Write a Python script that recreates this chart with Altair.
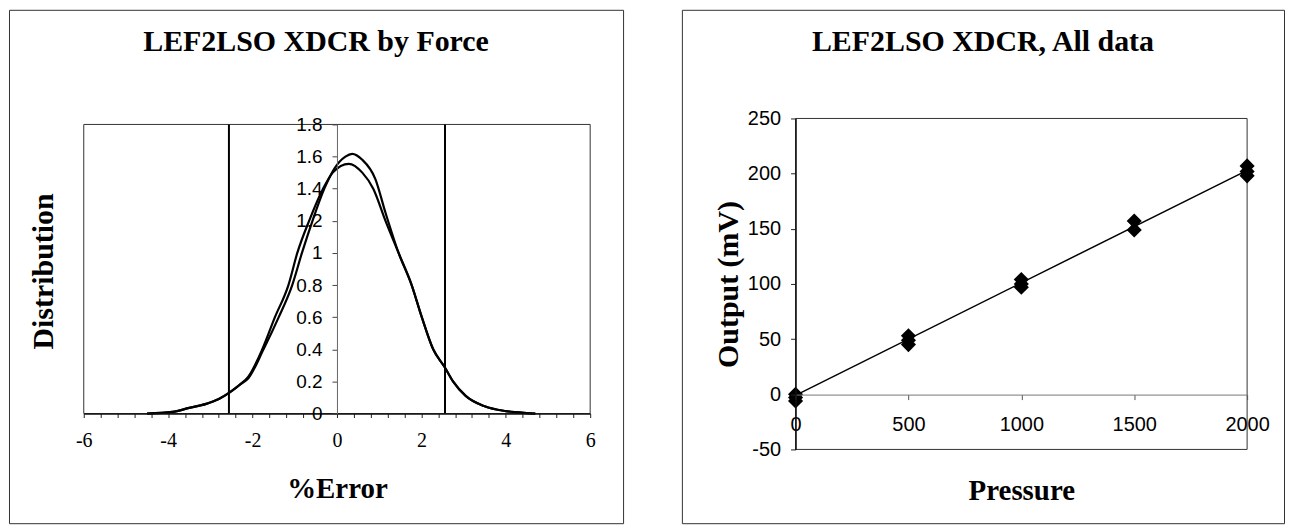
import altair as alt
import pandas as pd

# ---------------- Left chart: LEF2LSO XDCR by Force ----------------
curve_a_x = [-4.5, -3.9, -3.5, -3.1, -2.8, -2.55, -2.3, -2.1, -1.74, -1.38, -1.06, -0.83, -0.58, -0.3, -0.05, 0.2, 0.36, 0.6, 0.91, 1.15, 1.46, 1.77, 2.01, 2.28, 2.55, 2.75, 3.05, 3.5, 4.0, 4.5, 4.7]
curve_a_y = [0.0, 0.01, 0.035, 0.06, 0.09, 0.13, 0.18, 0.22, 0.40, 0.60, 0.80, 1.00, 1.20, 1.40, 1.53, 1.60, 1.617, 1.58, 1.46, 1.25, 1.00, 0.80, 0.60, 0.40, 0.29, 0.20, 0.11, 0.045, 0.015, 0.003, 0.0]
curve_b_x = [-4.5, -3.9, -3.5, -3.1, -2.8, -2.55, -2.3, -2.1, -1.77, -1.47, -1.15, -0.94, -0.66, -0.33, -0.1, 0.28, 0.6, 0.86, 1.15, 1.46, 1.77, 2.01, 2.28, 2.55, 2.75, 3.05, 3.5, 4.0, 4.5, 4.7]
curve_b_y = [0.0, 0.01, 0.035, 0.06, 0.09, 0.13, 0.18, 0.23, 0.40, 0.60, 0.80, 1.00, 1.20, 1.40, 1.50, 1.555, 1.50, 1.40, 1.20, 1.00, 0.80, 0.60, 0.40, 0.29, 0.20, 0.11, 0.045, 0.015, 0.003, 0.0]
limit_x = [-2.56, 2.56]
err_domain = [-6, 6]
dist_domain = [0, 1.8]
err_ticks = [round(-6 + 0.4 * i, 1) for i in range(31)]
dist_ticks = [0, 0.2, 0.4, 0.6, 0.8, 1, 1.2, 1.4, 1.6, 1.8]

# ---------------- Right chart: LEF2LSO XDCR, All data ----------------
pressure = [0, 0, 0, 500, 500, 500, 1000, 1000, 1000, 1500, 1500, 2000, 2000, 2000]
output_mv = [0, -3, -6, 45, 49, 53, 97, 100, 104, 149, 157, 198, 202, 207]
fit_x = [0, 2000]
fit_y = [-1, 203]
p_domain = [0, 2000]
o_domain = [-50, 250]
p_ticks = [0, 500, 1000, 1500, 2000]
o_ticks = [-50, 0, 50, 100, 150, 200, 250]

SERIF = "Liberation Serif"
SANS = "Liberation Sans"

# ---------------- build left ----------------
LW, LH = 616, 515
lx = alt.Scale(domain=err_domain, range=[75, 583], nice=False, zero=False)
ly = alt.Scale(domain=dist_domain, range=[405, 115], nice=False, zero=False)

lx_axis = alt.Axis(
    orient="bottom", offset=-110, values=err_ticks, zindex=1,
    labelExpr="abs(datum.value % 2) < 0.001 ? '' + datum.value : ''",
    labelFont=SERIF, labelFontSize=20, labelColor="black",
    labelPadding=13, tickSize=4, tickColor="#222", domainColor="#111", domainWidth=1.5,
    labelFlush=False, labelOverlap=False, grid=False,
    title="%Error", titleFont=SERIF, titleFontSize=29, titleFontWeight="bold", titleColor="black",
    titleY=75, titleBaseline="middle",
)
ly_axis = alt.Axis(
    orient="left", offset=-329, values=dist_ticks, zindex=1,
    labelExpr="'' + datum.value",
    labelFont=SANS, labelFontSize=19, labelColor="black",
    labelPadding=10, tickSize=5, tickColor="#444", domainColor="#666", domainWidth=1,
    labelFlush=False, labelOverlap=False, grid=False,
    title="Distribution", titleFont=SERIF, titleFontSize=30, titleFontWeight="bold", titleColor="black",
    titleX=-294, titleY=262, titleAngle=270, titleAlign="center", titleBaseline="middle",
)

box_l = pd.DataFrame({"x0": [err_domain[0]], "x1": [err_domain[1]], "y0": [dist_domain[0]], "y1": [dist_domain[1]]})
rect_l = alt.Chart(box_l).mark_rect(fill="transparent", stroke="#333", strokeWidth=1).encode(
    x=alt.X("x0:Q", scale=lx, axis=lx_axis), x2="x1:Q",
    y=alt.Y("y0:Q", scale=ly, axis=ly_axis), y2="y1:Q",
)

lim_df = pd.DataFrame({"x": limit_x, "y0": [dist_domain[0]] * 2, "y1": [dist_domain[1]] * 2})
rules_l = alt.Chart(lim_df).mark_rule(color="black", strokeWidth=2).encode(
    x=alt.X("x:Q", scale=lx, axis=lx_axis),
    y=alt.Y("y0:Q", scale=ly, axis=ly_axis), y2="y1:Q",
)

curves = pd.concat([
    pd.DataFrame({"x": curve_a_x, "y": curve_a_y, "s": "A"}),
    pd.DataFrame({"x": curve_b_x, "y": curve_b_y, "s": "B"}),
])
lines_l = alt.Chart(curves).mark_line(color="black", strokeWidth=2.2, interpolate="monotone").encode(
    x=alt.X("x:Q", scale=lx, axis=lx_axis),
    y=alt.Y("y:Q", scale=ly, axis=ly_axis),
    detail="s:N",
)

left = alt.layer(rect_l, rules_l, lines_l).properties(
    width=LW, height=LH,
    title=alt.TitleParams("LEF2LSO XDCR by Force", font=SERIF, fontSize=30, fontWeight="bold",
                          color="black", anchor="middle", frame="group", offset=-71, baseline="alphabetic"),
)

# ---------------- build right ----------------
RW, RH = 604, 515
rx = alt.Scale(domain=p_domain, range=[114, 567], nice=False, zero=False)
ry = alt.Scale(domain=o_domain, range=[441, 109], nice=False, zero=False)

rx_axis = alt.Axis(
    orient="bottom", offset=-129, values=p_ticks, zindex=1,
    labelExpr="'' + datum.value",
    labelFont=SANS, labelFontSize=20, labelColor="black",
    labelPadding=15, tickSize=5, tickColor="#555", domainColor="#777", domainWidth=1,
    labelFlush=False, labelOverlap=False, grid=False,
    title="Pressure", titleFont=SERIF, titleFontSize=29, titleFontWeight="bold", titleColor="black",
    titleY=96, titleBaseline="middle",
)
ry_axis = alt.Axis(
    orient="left", offset=-114, values=o_ticks, zindex=1,
    labelExpr="'' + datum.value",
    labelFont=SANS, labelFontSize=20, labelColor="black",
    labelPadding=10, tickSize=5, tickColor="#222", domainColor="#111", domainWidth=1.5,
    labelFlush=False, labelOverlap=False, grid=False,
    title="Output (mV)", titleFont=SERIF, titleFontSize=30, titleFontWeight="bold", titleColor="black",
    titleX=-67, titleY=275, titleAngle=270, titleAlign="center", titleBaseline="middle",
)

box_r = pd.DataFrame({"x0": [p_domain[0]], "x1": [p_domain[1]], "y0": [o_domain[0]], "y1": [o_domain[1]]})
rect_r = alt.Chart(box_r).mark_rect(fill="transparent", stroke="#333", strokeWidth=1).encode(
    x=alt.X("x0:Q", scale=rx, axis=rx_axis), x2="x1:Q",
    y=alt.Y("y0:Q", scale=ry, axis=ry_axis), y2="y1:Q",
)

fit_df = pd.DataFrame({"x": fit_x, "y": fit_y})
fit_line = alt.Chart(fit_df).mark_line(color="black", strokeWidth=1.5).encode(
    x=alt.X("x:Q", scale=rx, axis=rx_axis),
    y=alt.Y("y:Q", scale=ry, axis=ry_axis),
)

pts_df = pd.DataFrame({"x": pressure, "y": output_mv})
pts = alt.Chart(pts_df).mark_point(shape="diamond", filled=True, color="black", opacity=1, size=230).encode(
    x=alt.X("x:Q", scale=rx, axis=rx_axis),
    y=alt.Y("y:Q", scale=ry, axis=ry_axis),
)

right = alt.layer(rect_r, fit_line, pts).properties(
    width=RW, height=RH,
    title=alt.TitleParams("LEF2LSO XDCR, All data", font=SERIF, fontSize=30, fontWeight="bold",
                          color="black", anchor="middle", frame="group", offset=-71, baseline="alphabetic"),
)

chart = alt.hconcat(left, right, spacing=57).configure_view(
    stroke="#333", strokeWidth=1
).properties(padding=0, background="white")

chart.save("out.html", embed_options={"renderer": "svg", "actions": False})
